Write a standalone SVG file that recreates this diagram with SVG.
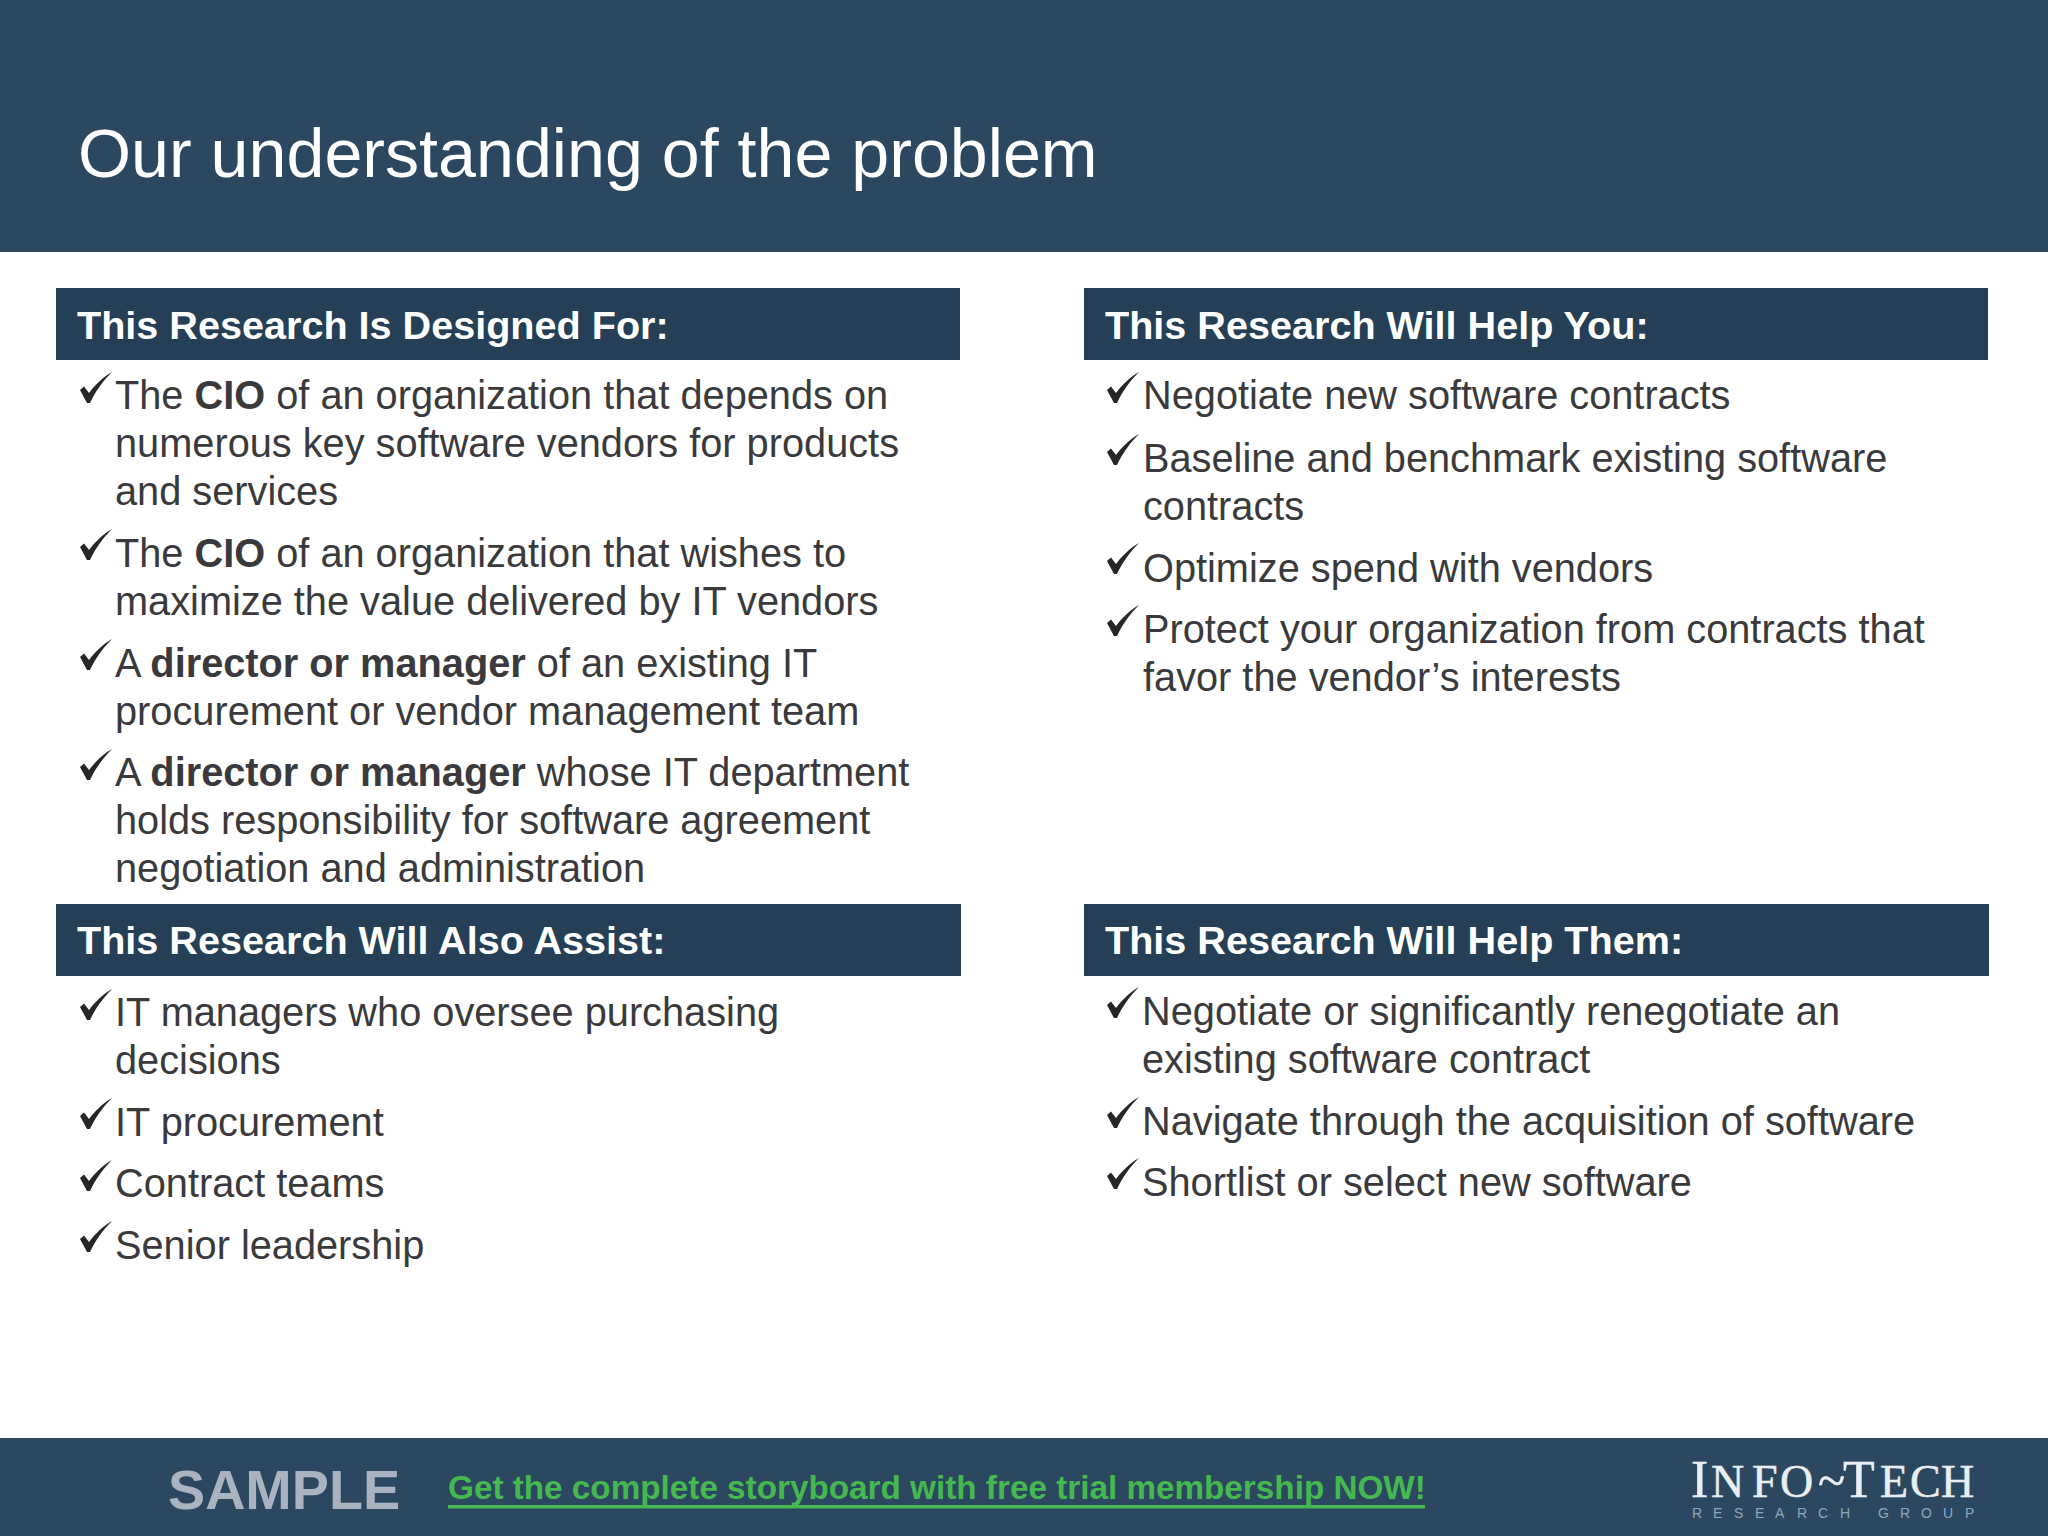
<svg xmlns="http://www.w3.org/2000/svg" width="2048" height="1536" viewBox="0 0 2048 1536">
<style>
text{font-family:"Liberation Sans",Arial,sans-serif}
.band{fill:#2b4860}
.hdr{fill:#243f56}
.ht{fill:#fff;font-size:39.6px;font-weight:700}
.b{fill:#3a3a3c;font-size:39.74px}
.b tspan{font-weight:700}
.chk{fill:#262626}
.logo{font-family:"Liberation Serif",serif;fill:#e8eef2;stroke:#e8eef2;stroke-width:.5}
</style>
<defs><path id="c" d="M0,17 L4,13.5 L9,20 C15,12 23,4 32,-1 C23,8 15,19 10,30 L7,30 Z"/></defs>
<rect width="2048" height="1536" fill="#fff"/>
<g id="title"><rect class="band" width="2048" height="252"/><text x="78" y="177" fill="#fff" font-size="68.2">Our understanding of the problem</text></g>
<g id="designed-for">
<rect class="hdr" x="56" y="288" width="904" height="72"/><text class="ht" x="77" y="339">This Research Is Designed For:</text>
<use href="#c" class="chk" x="80" y="373"/><text class="b" x="115" y="409.3">The <tspan>CIO</tspan> of an organization that depends on</text><text class="b" x="115" y="457">numerous key software vendors for products</text><text class="b" x="115" y="505">and services</text>
<use href="#c" class="chk" x="80" y="530"/><text class="b" x="115" y="567.3">The <tspan>CIO</tspan> of an organization that wishes to</text><text class="b" x="115" y="615">maximize the value delivered by IT vendors</text>
<use href="#c" class="chk" x="80" y="640"/><text class="b" x="115" y="677.3">A <tspan>director or manager</tspan> of an existing IT</text><text class="b" x="115" y="725">procurement or vendor management team</text>
<use href="#c" class="chk" x="80" y="750"/><text class="b" x="115" y="786.3">A <tspan>director or manager</tspan> whose IT department</text><text class="b" x="115" y="834.3">holds responsibility for software agreement</text><text class="b" x="115" y="882.3">negotiation and administration</text>
</g>
<g id="help-you">
<rect class="hdr" x="1084" y="288" width="904" height="72"/><text class="ht" x="1105" y="339">This Research Will Help You:</text>
<use href="#c" class="chk" x="1107" y="373"/><text class="b" x="1143" y="409.3">Negotiate new software contracts</text>
<use href="#c" class="chk" x="1107" y="435"/><text class="b" x="1143" y="472">Baseline and benchmark existing software</text><text class="b" x="1143" y="519.8">contracts</text>
<use href="#c" class="chk" x="1107" y="544"/><text class="b" x="1143" y="581.5">Optimize spend with vendors</text>
<use href="#c" class="chk" x="1107" y="606"/><text class="b" x="1143" y="643">Protect your organization from contracts that</text><text class="b" x="1143" y="691">favor the vendor’s interests</text>
</g>
<g id="also-assist">
<rect class="hdr" x="56" y="904" width="905" height="72"/><text class="ht" x="77" y="954">This Research Will Also Assist:</text>
<use href="#c" class="chk" x="80" y="990"/><text class="b" x="115" y="1026.3">IT managers who oversee purchasing</text><text class="b" x="115" y="1074">decisions</text>
<use href="#c" class="chk" x="80" y="1099"/><text class="b" x="115" y="1135.8">IT procurement</text>
<use href="#c" class="chk" x="80" y="1161"/><text class="b" x="115" y="1197.3">Contract teams</text>
<use href="#c" class="chk" x="80" y="1222"/><text class="b" x="115" y="1259">Senior leadership</text>
</g>
<g id="help-them">
<rect class="hdr" x="1084" y="904" width="905" height="72"/><text class="ht" x="1105" y="954">This Research Will Help Them:</text>
<use href="#c" class="chk" x="1107" y="988"/><text class="b" x="1142" y="1024.5">Negotiate or significantly renegotiate an</text><text class="b" x="1142" y="1072.8">existing software contract</text>
<use href="#c" class="chk" x="1107" y="1098"/><text class="b" x="1142" y="1134.5">Navigate through the acquisition of software</text>
<use href="#c" class="chk" x="1107" y="1159"/><text class="b" x="1142" y="1195.5">Shortlist or select new software</text>
</g>
<g id="footer">
<rect class="band" y="1438" width="2048" height="98"/>
<text x="168" y="1509" fill="#a9b4c0" font-size="55.7" font-weight="700">SAMPLE</text>
<text x="448" y="1498.6" fill="#45b84f" font-size="33.27" font-weight="700">Get the complete storyboard with free trial membership NOW!</text>
<rect x="448" y="1505" width="977" height="3.5" fill="#45b84f"/>
<text class="logo" y="1497" font-size="46"><tspan x="1691" font-size="52">I</tspan><tspan x="1711 1752 1780">NFO</tspan><tspan x="1818" font-size="50">~</tspan><tspan x="1843" font-size="52">T</tspan><tspan x="1880 1910 1941">ECH</tspan></text>
<text x="1692 1713 1734 1755 1775 1797 1818 1840 1860 1878 1900 1921 1943 1965" y="1518" fill="#8fa8bb" font-size="14">RESEARCH GROUP</text>
</g>
</svg>
